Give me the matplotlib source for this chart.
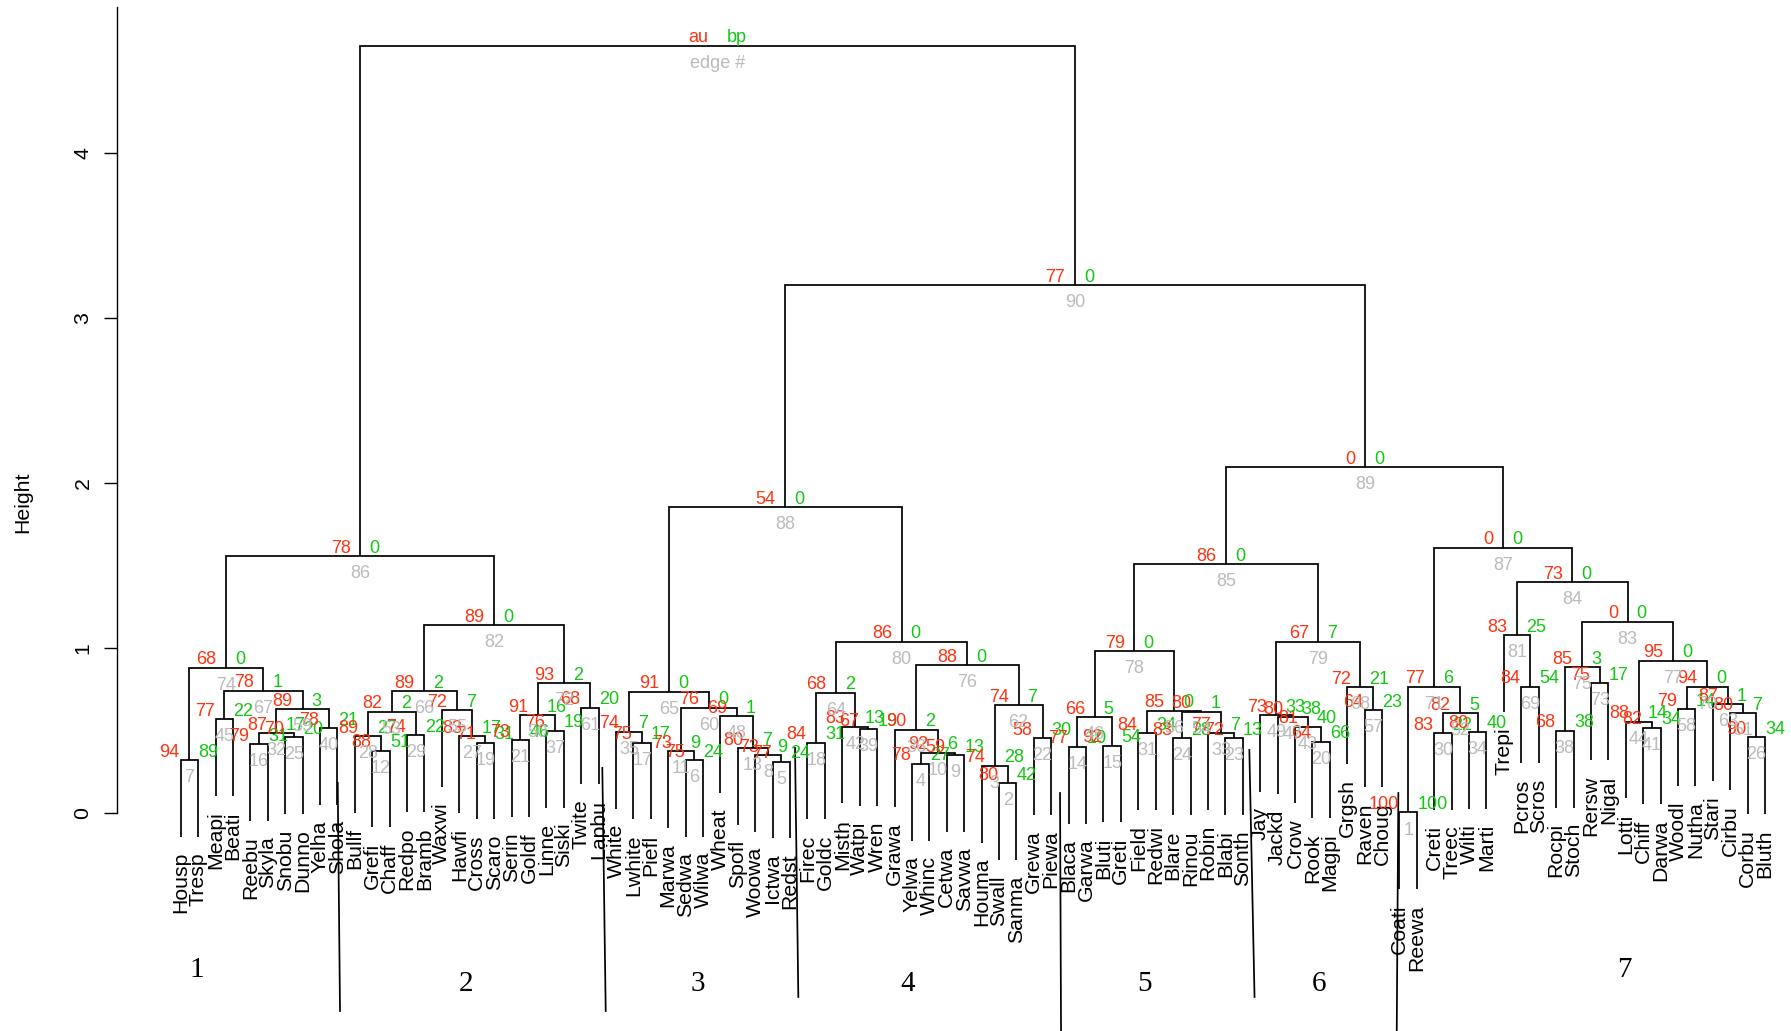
import matplotlib
matplotlib.use("Agg")
import matplotlib.pyplot as plt

plt.rcParams['font.family'] = ['Liberation Sans', 'DejaVu Sans']

# leaf labels, left to right
leaves = ["Housp", "Tresp", "Meapi", "Beati", "Reebu", "Skyla", "Snobu", "Dunno", "Yelha", "Shola",
          "Bullf", "Grefi", "Chaff", "Redpo", "Bramb", "Waxwi", "Hawfi", "Cross", "Scaro", "Serin",
          "Goldf", "Linne", "Siski", "Twite", "Lapbu",
          "White", "Lwhite", "Piefl", "Marwa", "Sedwa", "Wilwa", "Wheat", "Spofl", "Woowa", "Ictwa", "Redst",
          "Firec", "Goldc", "Misth", "Watpi", "Wren", "Grawa", "Yelwa", "Whinc", "Cetwa", "Savwa",
          "Houma", "Swall", "Sanma", "Grewa", "Piewa",
          "Blaca", "Garwa", "Bluti", "Greti", "Field", "Redwi", "Blare", "Rinou", "Robin", "Blabi", "Sonth",
          "Jay", "Jackd", "Crow", "Rook", "Magpi", "Grgsh", "Raven", "Choug",
          "Coati", "Reewa", "Creti", "Treec", "Wilti", "Marti", "Trepi", "Pcros", "Scros", "Rocpi",
          "Stoch", "Rersw", "Nigal", "Lotti", "Chiff", "Darwa", "Woodl", "Nutha", "Stari", "Cirbu",
          "Corbu", "Bluth"]

# merges: (node, left, right, height, au, bp, edge #)
cluster1 = [
    ("a1", "Housp", "Tresp", 0.323, 94, 89, 7),
    ("a2", "Meapi", "Beati", 0.569, 77, 22, 45),
    ("a3", "Reebu", "Skyla", 0.420, 79, 31, 16),
    ("a4", "Snobu", "Dunno", 0.460, 70, 20, 25),
    ("a5", "a3", "a4", 0.485, 87, 17, 32),
    ("a6", "Yelha", "Shola", 0.515, 78, 21, 40),
    ("a7", "a5", "a6", 0.630, 89, 3, 59),
    ("a8", "a2", "a7", 0.743, 78, 1, 67),
    ("c1", "a1", "a8", 0.882, 68, 0, 74),
]
cluster2 = [
    ("b1", "Grefi", "Chaff", 0.379, 88, 51, 12),
    ("b2", "Bullf", "b1", 0.468, 89, 27, 28),
    ("b3", "Redpo", "Bramb", 0.474, 74, 22, 29),
    ("b4", "b2", "b3", 0.615, 82, 2, 53),
    ("b5", "Cross", "Scaro", 0.428, 71, 31, 19),
    ("b6", "Hawfi", "b5", 0.468, 83, 17, 27),
    ("b7", "Waxwi", "b6", 0.626, 72, 7, 55),
    ("b8", "b4", "b7", 0.741, 89, 2, 66),
    ("b9", "Serin", "Goldf", 0.444, 73, 46, 21),
    ("b10", "Linne", "Siski", 0.500, 76, 19, 37),
    ("b11", "b9", "b10", 0.595, 91, 16, 50),
    ("b12", "Twite", "Lapbu", 0.640, 68, 20, 61),
    ("b13", "b11", "b12", 0.787, 93, 2, 72),
    ("c2", "b8", "b13", 1.140, 89, 0, 82),
]
cluster3 = [
    ("d1", "Lwhite", "Piefl", 0.428, 75, 17, 17),
    ("d2", "White", "d1", 0.494, 74, 7, 35),
    ("d3", "Sedwa", "Wilwa", 0.323, 75, 24, 6),
    ("d4", "Marwa", "d3", 0.377, 73, 9, 11),
    ("d5", "Ictwa", "Redst", 0.313, 77, 24, 5),
    ("d6", "Woowa", "d5", 0.353, 73, 9, 8),
    ("d7", "Spofl", "d6", 0.394, 80, 7, 13),
    ("d8", "Wheat", "d7", 0.589, 69, 1, 48),
    ("d9", "d4", "d8", 0.640, 76, 0, 60),
    ("c3", "d2", "d9", 0.737, 91, 0, 65),
]
cluster4 = [
    ("e1", "Firec", "Goldc", 0.428, 84, 31, 18),
    ("e2", "Watpi", "Wren", 0.509, 67, 19, 39),
    ("e3", "Misth", "e2", 0.525, 83, 13, 42),
    ("e4", "e1", "e3", 0.731, 68, 2, 64),
    ("e5", "Yelwa", "Whinc", 0.299, 78, 27, 4),
    ("e6", "Cetwa", "Savwa", 0.353, 59, 13, 9),
    ("e7", "e5", "e6", 0.367, 92, 6, 10),
    ("e8", "Grawa", "e7", 0.505, 90, 2, 36),
    ("e9", "Swall", "Sanma", 0.182, 80, 42, 2),
    ("e10", "Houma", "e9", 0.288, 74, 28, 3),
    ("e11", "Grewa", "Piewa", 0.454, 58, 30, 22),
    ("e12", "e10", "e11", 0.656, 74, 7, 62),
    ("e13", "e8", "e12", 0.898, 88, 0, 76),
    ("c4", "e4", "e13", 1.039, 86, 0, 80),
]
cluster5 = [
    ("f1", "Blaca", "Garwa", 0.403, 77, 10, 14),
    ("f2", "Bluti", "Greti", 0.410, 92, 54, 15),
    ("f3", "f1", "f2", 0.581, 66, 5, 46),
    ("f4", "Field", "Redwi", 0.484, 84, 34, 31),
    ("f5", "Blare", "Rinou", 0.454, 83, 28, 24),
    ("f6", "Blabi", "Sonth", 0.454, 72, 13, 23),
    ("f7", "Robin", "f6", 0.486, 77, 7, 33),
    ("f8", "f5", "f7", 0.615, 80, 1, 54),
    ("f9", "f4", "f8", 0.621, 85, 0, 56),
    ("c5", "f3", "f9", 0.983, 79, 0, 78),
]
cluster6 = [
    ("g1", "Rook", "Magpi", 0.434, 64, 66, 20),
    ("g2", "Crow", "g1", 0.525, 81, 40, 43),
    ("g3", "Jackd", "g2", 0.581, 80, 38, 47),
    ("g4", "Jay", "g3", 0.595, 73, 33, 49),
    ("g5", "Raven", "Choug", 0.624, 64, 23, 57),
    ("g6", "Grgsh", "g5", 0.763, 72, 21, 68),
    ("c6", "g4", "g6", 1.040, 67, 7, 79),
]
cluster7 = [
    ("h1", "Coati", "Reewa", 0.005, 100, 100, 1),
    ("h2", "Creti", "Treec", 0.484, 83, 22, 30),
    ("h3", "Wilti", "Marti", 0.494, 80, 40, 34),
    ("h4", "h2", "h3", 0.606, 82, 5, 52),
    ("h5", "h1", "h4", 0.767, 77, 6, 71),
    ("h6", "Pcros", "Scros", 0.767, 84, 54, 69),
    ("h7", "Trepi", "h6", 1.080, 83, 25, 81),
    ("h8", "Rocpi", "Stoch", 0.500, 68, 38, 38),
    ("h9", "Rersw", "Nigal", 0.787, 75, 17, 73),
    ("h10", "h8", "h9", 0.884, 85, 3, 75),
    ("h11", "Chiff", "Darwa", 0.519, 82, 34, 41),
    ("h12", "Lotti", "h11", 0.555, 88, 14, 44),
    ("h13", "Woodl", "Nutha", 0.632, 79, 14, 58),
    ("h14", "Corbu", "Bluth", 0.460, 90, 34, 26),
    ("h15", "Cirbu", "h14", 0.606, 80, 7, 51),
    ("h16", "Stari", "h15", 0.662, 87, 1, 63),
    ("h17", "h13", "h16", 0.767, 94, 0, 70),
    ("h18", "h12", "h17", 0.925, 95, 0, 77),
    ("h19", "h10", "h18", 1.161, 0, 0, 83),
    ("h20", "h7", "h19", 1.400, 73, 0, 84),
    ("c7", "h5", "h20", 1.610, 0, 0, 87),
]
upper = [
    ("u1", "c1", "c2", 1.557, 78, 0, 86),
    ("u2", "c3", "c4", 1.855, 54, 0, 88),
    ("u3", "c5", "c6", 1.509, 86, 0, 85),
    ("u4", "u3", "c7", 2.097, 0, 0, 89),
    ("u5", "u2", "u4", 3.200, 77, 0, 90),
    ("root", "u1", "u5", 4.650, "au", "bp", "edge #"),
]

cluster_ids = ["1", "2", "3", "4", "5", "6", "7"]

HANG = 0.465
AU_COL, BP_COL, EDGE_COL = "#FF3311", "#11C811", "#BBBBBB"
LEAF_SIZE, PV_SIZE = 15.3, 13.0

fig = plt.figure(figsize=(17.91, 10.31), dpi=100)
ax = fig.add_axes([0, 0, 1, 1])
ax.set_xlim(-10.379, 92.49)
ax.set_ylim(-1.3189, 4.9273)

pos = {name: (i, None) for i, name in enumerate(leaves)}

for group in [cluster1, cluster2, cluster3, cluster4, cluster5, cluster6, cluster7, upper]:
    for node, left, right, h, au, bp, edge in group:
        xl, hl = pos[left]
        xr, hr = pos[right]
        bl = hl if hl is not None else h - HANG
        br = hr if hr is not None else h - HANG
        ax.plot([xl, xl, xr, xr], [bl, h, h, br], color="black", lw=1.25,
                solid_joinstyle="miter", solid_capstyle="butt")
        x = (xl + xr) / 2
        pos[node] = (x, h)
        ax.annotate(str(au), (x, h), xytext=(-7, 2.5), textcoords="offset points",
                    ha="right", va="baseline", color=AU_COL, fontsize=PV_SIZE)
        ax.annotate(str(bp), (x, h), xytext=(6.5, 2.5), textcoords="offset points",
                    ha="left", va="baseline", color=BP_COL, fontsize=PV_SIZE)
        ax.annotate(str(edge), (x, h), xytext=(0, -6.5), textcoords="offset points",
                    ha="center", va="top", color=EDGE_COL, fontsize=PV_SIZE)
        # leaf labels hang below the leaf ends
        for child, cx, ch in [(left, xl, hl), (right, xr, hr)]:
            if ch is None:
                ax.annotate(child, (cx, h - HANG), xytext=(0, -11), textcoords="offset points",
                            ha="center", va="top", rotation=90, fontsize=LEAF_SIZE)

# cut lines drawn between the clusters
cut_lines = [((9.018, 0.184), (9.150, -1.198)),
             ((24.216, 0.275), (24.411, -1.198)),
             ((35.284, 0.396), (35.474, -1.113)),
             ((50.505, 0.123), (50.563, -1.319)),
             ((61.379, 0.384), (61.677, -1.113)),
             ((69.937, 0.123), (69.845, -1.319))]
for (x0, y0), (x1, y1) in cut_lines:
    ax.plot([x0, x1], [y0, y1], color="black", lw=1.25, clip_on=False)

id_x = [0.92, 16.39, 29.71, 41.77, 55.36, 65.38, 82.90]
id_y = [-0.949, -1.034, -1.034, -1.034, -1.034, -1.034, -0.949]
for lab, x, y in zip(cluster_ids, id_x, id_y):
    ax.text(x, y, lab, ha="center", va="center", fontsize=21, family="Liberation Serif")

# y axis like R's plot.hclust
for s in ["top", "right", "bottom"]:
    ax.spines[s].set_visible(False)
ax.spines["left"].set_position(("data", -3.676))
ax.spines["left"].set_bounds(0, 4.883)
ax.spines["left"].set_linewidth(1.0)
ax.set_xticks([])
ax.set_yticks([0, 1, 2, 3, 4])
ax.tick_params(axis="y", length=9.5, width=1.0, pad=8, labelsize=15.3)
plt.setp(ax.get_yticklabels(), rotation=90, va="center", ha="right")
ax.patch.set_visible(False)

fig.text(22.8 / 1791, 1 - 502.6 / 1031, "Height", rotation=90, ha="center", va="center", fontsize=15.3)

fig.savefig("out.png", dpi=100)
